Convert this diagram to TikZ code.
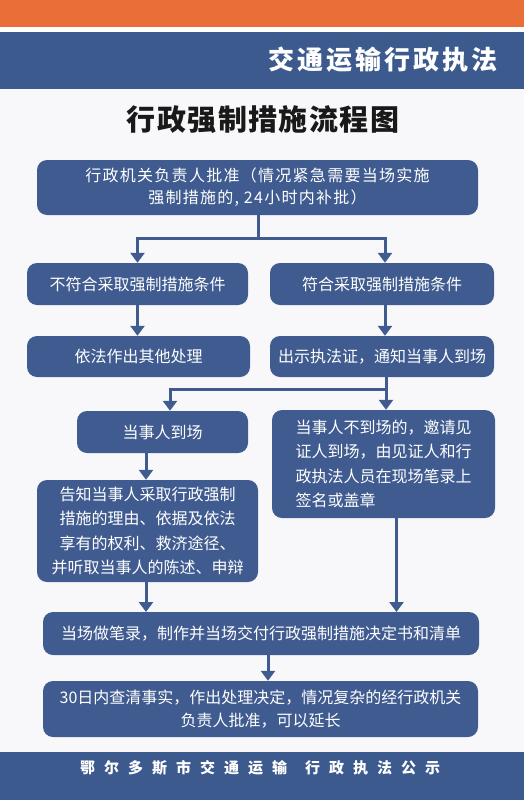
\documentclass[tikz,border=0pt]{standalone}
\usepackage{fontspec}
\setmainfont{Noto Sans CJK SC}
\newfontfamily\cjkwide[LetterSpace=8]{Noto Sans CJK SC}
\newfontfamily\cjkhead[LetterSpace=12]{Noto Sans CJK SC}
\newfontfamily\cjktitle[LetterSpace=5]{Noto Sans CJK SC}
\newfontfamily\cjkfoot[LetterSpace=60]{Noto Sans CJK SC}
\usetikzlibrary{arrows.meta}
\definecolor{boxblue}{HTML}{3F5B8F}
\definecolor{bandblue}{HTML}{3D5A8E}
\definecolor{bandorange}{HTML}{EA6E38}
\definecolor{pagebg}{HTML}{F8F8FA}
\begin{document}
\begin{tikzpicture}[x=1pt,y=-1pt,
  flowbox/.style={fill=boxblue, rounded corners=10pt, text=white,
    font=\fontsize{16}{24.5}\selectfont, inner sep=0pt, align=center},
  flow/.style={draw=boxblue, line width=3pt},
  arr/.style={flow, -{Triangle[width=14pt,length=10pt]}}]
\useasboundingbox (0,0) rectangle (524,800);
\fill[pagebg] (0,0) rectangle (524,800);
% header
\fill[bandorange] (0,0) rectangle (524,27);
\fill[white] (0,27) rectangle (524,32);
\fill[bandblue] (0,32) rectangle (524,89);
\node[text=white, font=\cjkhead\fontsize{26}{26}\selectfont\bfseries] (head) at (383,60) {交通运输行政执法};
% title
\node[text=black!90, font=\cjktitle\fontsize{29}{29}\selectfont\bfseries] (title) at (263,120) {行政强制措施流程图};
% boxes
\node[flowbox, minimum width=441pt, minimum height=55pt, font=\cjkwide\fontsize{16}{22}\selectfont] (b1) at (257.5,187.5)
  {行政机关负责人批准（情况紧急需要当场实施\\强制措施的, 24小时内补批）};
\node[flowbox, minimum width=221pt, minimum height=42pt] (b2l) at (137.5,284) {不符合采取强制措施条件};
\node[flowbox, minimum width=224pt, minimum height=42pt] (b2r) at (382,284) {符合采取强制措施条件};
\node[flowbox, minimum width=223pt, minimum height=41pt] (b3l) at (138.5,356.5) {依法作出其他处理};
\node[flowbox, minimum width=224pt, minimum height=41pt] (b3r) at (382,356.5) {出示执法证，通知当事人到场};
\node[flowbox, minimum width=171pt, minimum height=42pt] (b4l) at (162.5,432) {当事人到场};
\node[flowbox, minimum width=223pt, minimum height=108pt, align=left] (b4r) at (383.5,464)
  {当事人不到场的，邀请见\\证人到场，由见证人和行\\政执法人员在现场笔录上\\签名或盖章};
\node[flowbox, minimum width=221pt, minimum height=102pt] (b5l) at (147.5,531)
  {告知当事人采取行政强制\\措施的理由、依据及依法\\享有的权利、救济途径、\\并听取当事人的陈述、申辩};
\node[flowbox, minimum width=436pt, minimum height=43pt] (b6) at (261,633.5)
  {当场做笔录，制作并当场交付行政强制措施决定书和清单};
\node[flowbox, minimum width=435pt, minimum height=56pt, font=\fontsize{16}{23}\selectfont] (b7) at (260.5,709)
  {30日内查清事实，作出处理决定，情况复杂的经行政机关\\负责人批准，可以延长};
% connectors
\coordinate (j1) at (258,238);
\coordinate (j2) at (386,389);
\draw[flow] (b1.south -| j1) -- (j1);
\draw[arr] (j1) -| (b2l.north);
\draw[arr] (j1) -| ([xshift=3pt]b2r.north);
\draw[arr] (b2l) -- (b3l.north -| b2l.north);
\draw[arr] ([xshift=3pt]b2r.south) -- ([xshift=3pt]b3r.north);
\draw[flow] ([xshift=4pt]b3r.south) -- (j2);
\draw[arr] (j2) -| ([xshift=7.5pt]b4l.north);
\draw[arr] (j2) -- (j2 |- b4r.north);
\draw[arr] ([xshift=-16.5pt]b4l.south) -- ([xshift=-1.5pt]b5l.north);
\draw[arr] ([xshift=-1.5pt]b5l.south) -- (146,612);
\draw[arr] ([xshift=13pt]b4r.south) -- (396.5,612);
\draw[arr] ([xshift=7pt]b6.south) -- ([xshift=7.5pt]b7.north);
% footer
\fill[bandblue] (0,752) rectangle (524,800);
\node[text=white, font=\cjkfoot\fontsize{15}{15}\selectfont\bfseries] (foot) at (260,768) {鄂尔多斯市交通运输\hspace{18pt}行政执法公示};
\end{tikzpicture}
\end{document}
